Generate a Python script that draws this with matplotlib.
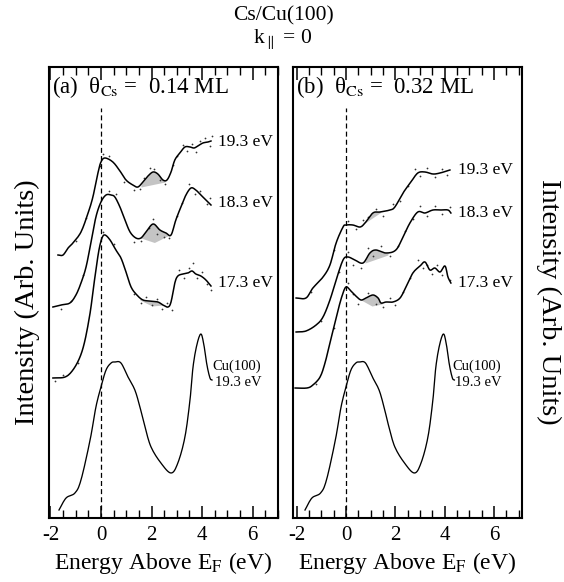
import numpy as np
import matplotlib
matplotlib.use("Agg")
import matplotlib.pyplot as plt

plt.rcParams['font.family'] = ['Liberation Serif', 'DejaVu Serif']
plt.rcParams['mathtext.fontset'] = 'stix'

# ---------------- data (energy in eV, intensity in arbitrary units, offsets included) ----------------
# shared clean Cu(100) spectrum at 19.3 eV
cu_E = [-1.66, -1.38, -1.03, -0.79, -0.43, -0.20, 0.00, 0.20, 0.40, 0.55, 0.79, 1.07, 1.34, 1.54,
        1.74, 1.98, 2.37, 2.77, 3.04, 3.32, 3.52, 3.64, 3.79, 3.95, 4.07, 4.19, 4.31, 4.39]
cu_I = [8, 20, 25, 38, 78, 111, 131, 148, 155, 156, 155, 141, 128, 111,
        91, 71, 55, 45, 55, 81, 118, 151, 173, 184, 173, 153, 140, 138]

# panel (a): 0.14 ML
a193_E = [-1.70, -1.50, -1.30, -1.11, -0.79, -0.51, -0.32, -0.12, 0.00, 0.16, 0.47, 0.75, 0.99,
          1.26, 1.46, 1.66, 1.86, 2.06, 2.25, 2.45, 2.61, 2.77, 2.92, 3.12, 3.32, 3.52, 3.68, 3.83,
          4.03, 4.23, 4.35]
a193_I = [263, 263, 270, 275, 286, 305, 321, 345, 356, 360, 356, 347, 338,
          333, 331, 336, 342, 346, 344, 338, 338, 346, 358, 365, 371, 371, 370, 372,
          375, 376, 377]
a183_E = [-1.90, -1.58, -1.23, -0.99, -0.79, -0.59, -0.40, -0.20, 0.00, 0.20, 0.40, 0.55, 0.75, 0.95,
          1.15, 1.38, 1.58, 1.78, 2.06, 2.33, 2.57, 2.77, 2.96, 3.16, 3.36, 3.56, 3.75, 3.95, 4.15, 4.35]
a183_I = [211, 213, 215, 223, 235, 251, 275, 301, 316, 323, 323, 321, 311, 298,
          286, 280, 280, 286, 294, 288, 285, 283, 298, 311, 323, 330, 328, 323, 318, 313]
a173_E = [-1.90, -1.42, -1.11, -0.83, -0.63, -0.43, -0.32, -0.20, -0.08, 0.04, 0.16, 0.36, 0.59, 0.79,
          0.99, 1.19, 1.42, 1.66, 1.94, 2.25, 2.45, 2.65, 2.77, 2.92, 3.04, 3.24, 3.44, 3.60, 3.75,
          3.95, 4.15, 4.35]
a173_I = [140, 141, 148, 161, 178, 205, 226, 248, 268, 280, 283, 278, 268, 260,
          246, 231, 223, 218, 217, 216, 213, 211, 216, 235, 242, 244, 245, 247, 244,
          242, 238, 232]

# panel (b): 0.32 ML
b193_E = [-2.02, -1.62, -1.34, -0.93, -0.65, -0.40, -0.12, 0.00, 0.28, 0.57, 0.77, 1.09, 1.38, 1.78,
          1.98, 2.31, 2.63, 2.91, 3.20, 3.52, 3.81, 4.21]
b193_I = [220, 220, 230, 241, 253, 275, 291, 293, 293, 291, 295, 305, 306, 308,
          311, 325, 336, 345, 346, 344, 345, 348]
b183_E = [-2.02, -1.62, -1.21, -0.93, -0.65, -0.40, -0.12, 0.08, 0.36, 0.69, 0.97, 1.21, 1.62, 2.02,
          2.31, 2.59, 2.91, 3.20, 3.52, 3.85, 4.13, 4.25]
b183_I = [186, 187, 193, 201, 218, 238, 258, 261, 258, 255, 265, 268, 265, 268,
          281, 295, 306, 305, 308, 308, 308, 305]
b173_E = [-2.06, -1.58, -1.34, -1.05, -0.85, -0.65, -0.45, -0.32, -0.16, 0.00, 0.20, 0.40, 0.61, 0.81,
          1.09, 1.30, 1.42, 1.62, 1.90, 2.19, 2.43, 2.71, 3.00, 3.20, 3.40, 3.60, 3.81, 4.01, 4.13, 4.25]
b173_I = [130, 130, 133, 141, 155, 175, 195, 208, 222, 231, 227, 222, 218, 220,
          223, 220, 215, 216, 216, 220, 231, 245, 252, 256, 248, 250, 246, 252, 241, 235]

# raw data points scattered around the smoothed curves
a193_dot_E = [-1.0, -0.6, -0.05, 0.1, 0.3, 0.9, 1.3, 1.55, 1.7, 1.95, 2.1, 2.35, 2.55, 2.85, 3.0, 3.25,
              3.4, 3.6, 3.75, 3.9, 4.1, 4.3, 4.4]
a193_dot_I = [277, 300, 352, 364, 362, 336, 328, 329, 340, 350, 349, 338, 334, 353, 362, 373,
              367, 374, 366, 377, 380, 372, 382]
a183_dot_E = [-1.6, -1.2, -0.7, 0.3, 0.6, 1.3, 1.6, 1.9, 2.05, 2.2, 2.5, 2.7, 3.0, 3.2, 3.5, 3.7, 3.9,
              4.2, 4.3]
a183_dot_I = [209, 217, 243, 327, 324, 276, 277, 290, 299, 284, 281, 280, 302, 315, 334, 324, 327,
              314, 320]
a173_dot_E = [-1.8, -1.5, -0.9, 0.1, 0.5, 1.3, 1.6, 1.8, 2.0, 2.2, 2.4, 2.6, 2.8, 3.1, 3.3, 3.5, 3.65,
              3.8, 4.0, 4.2, 4.35]
a173_dot_I = [137, 143, 155, 286, 274, 224, 215, 221, 213, 219, 209, 215, 208, 248, 240, 250, 255,
              240, 246, 234, 228]
b193_dot_E = [-1.4, -0.5, 0.1, 0.4, 0.7, 0.9, 1.2, 1.5, 1.9, 2.2, 2.5, 2.8, 3.0, 3.3, 3.6, 3.9, 4.1]
b193_dot_I = [226, 268, 297, 289, 298, 301, 309, 302, 314, 317, 332, 349, 342, 350, 341, 349, 343]
b183_dot_E = [-1.0, -0.3, 0.1, 0.3, 0.6, 0.9, 1.1, 1.4, 1.8, 2.1, 2.4, 2.7, 3.0, 3.3, 3.6, 3.9, 4.2]
b183_dot_I = [197, 246, 266, 253, 250, 270, 262, 272, 262, 272, 287, 299, 312, 302, 312, 304, 311]
b173_dot_E = [-1.2, -0.5, 0.1, 0.3, 0.5, 0.9, 1.2, 1.5, 1.8, 2.0, 2.3, 2.6, 2.9, 3.1, 3.3, 3.5, 3.7,
              3.9, 4.2]
b173_dot_I = [134, 190, 235, 224, 214, 225, 214, 211, 220, 213, 226, 240, 258, 250, 253, 244, 253,
              243, 238]

# shaded (Cs-induced) features: lower boundary points
a193_shade_E = [1.58, 2.53]; a193_shade_I = [331, 336]
a183_shade_E = [1.54, 2.13, 2.77]; a183_shade_I = [280, 275, 283]
a173_shade_E = [1.54, 2.02, 2.45]; a173_shade_I = [218, 212, 213]
b193_shade_E = [0.57, 1.42]; b193_shade_I = [291, 305]
b183_shade_E = [0.77, 1.70]; b183_shade_I = [255, 263]
b173_shade_E = [0.61, 1.05, 1.46]; b173_shade_I = [218, 212, 214]

photon_labels = ["19.3 eV", "18.3 eV", "17.3 eV"]
a_label_I = [376, 315, 235]
b_label_I = [348, 305, 235]
panel_titles = ["(a)  θ$_{\\mathrm{Cs}}$ =  0.14 ML", "(b)  θ$_{\\mathrm{Cs}}$ =  0.32 ML"]
xticks = [-2, 0, 2, 4, 6]


def smooth(x, y, n=8):
    x = np.asarray(x, float); y = np.asarray(y, float)
    P = np.column_stack([x, y])
    P = np.vstack([P[0] * 2 - P[1], P, P[-1] * 2 - P[-2]])
    out = []
    t = np.linspace(0, 1, n, endpoint=False)[:, None]
    for i in range(1, len(P) - 2):
        p0, p1, p2, p3 = P[i - 1], P[i], P[i + 1], P[i + 2]
        seg = 0.5 * ((2 * p1) + (-p0 + p2) * t + (2 * p0 - 5 * p1 + 4 * p2 - p3) * t ** 2
                     + (-p0 + 3 * p1 - 3 * p2 + p3) * t ** 3)
        out.append(seg)
    out.append(P[-2][None, :])
    out = np.vstack(out)
    return out[:, 0], out[:, 1]


W, H = 564, 582
fig = plt.figure(figsize=(W / 100, H / 100), dpi=100)

def px_axes(x0, x1, y0, y1):
    return fig.add_axes([x0 / W, 1 - y1 / H, (x1 - x0) / W, (y1 - y0) / H])

axA = px_axes(49, 278, 67, 518)
axB = px_axes(293, 522, 67, 518)

panels = [
    (axA, (-2.055, 7.0), [(a193_E, a193_I, a193_shade_E, a193_shade_I, a193_dot_E, a193_dot_I),
                          (a183_E, a183_I, a183_shade_E, a183_shade_I, a183_dot_E, a183_dot_I),
                          (a173_E, a173_I, a173_shade_E, a173_shade_I, a173_dot_E, a173_dot_I)],
     a_label_I, 4.62, panel_titles[0]),
    (axB, (-2.146, 7.13), [(b193_E, b193_I, b193_shade_E, b193_shade_I, b193_dot_E, b193_dot_I),
                           (b183_E, b183_I, b183_shade_E, b183_shade_I, b183_dot_E, b183_dot_I),
                           (b173_E, b173_I, b173_shade_E, b173_shade_I, b173_dot_E, b173_dot_I)],
     b_label_I, 4.53, panel_titles[1]),
]

for ax, xl, curves, lab_I, lab_x, ptitle in panels:
    ax.set_xlim(*xl)
    ax.set_ylim(0, 451)
    for E, I, sE, sI, dE, dI in curves:
        xs, ys = smooth(E, I)
        g = np.linspace(sE[0], sE[-1], 60)
        top = np.interp(g, xs, ys)
        base = np.interp(g, sE, sI)
        ax.fill_between(g, base, top, where=top >= base, color='#c4c4c4', lw=0, interpolate=True, zorder=1)
        ax.plot(xs, ys, color='k', lw=1.1, zorder=3)
        ax.scatter(dE, dI, s=1.6, color='#333333', lw=0, zorder=2)
    xs, ys = smooth(cu_E, cu_I)
    ax.plot(xs, ys, color='k', lw=0.95, zorder=3)
    ax.plot([0, 0], [0, 410], color='k', lw=0.9, ls=(0, (4, 2.5)), zorder=2)
    for lab, yy in zip(photon_labels, lab_I):
        ax.text(lab_x, yy, lab, fontsize=12.5, va='center', ha='left')
    ax.text(lab_x - 0.22, 152, "Cu(100)", fontsize=10.5, va='center', ha='left')
    ax.text(lab_x - 0.1, 136, "19.3 eV", fontsize=10.5, va='center', ha='left')
    ax.text(0.015, 0.955, ptitle, transform=ax.transAxes, fontsize=16.5, va='center', ha='left')
    ax.set_yticks([])
    ax.set_xticks(xticks)
    ax.set_xticklabels([str(v) for v in xticks])
    ax.set_xticks(np.arange(-2, 7.01, 0.5), minor=True)
    ax.tick_params(axis='x', which='major', direction='in', top=True, bottom=True, length=9, width=1.1,
                   labelsize=15, pad=6)
    ax.tick_params(axis='x', which='minor', direction='in', top=True, bottom=True, length=5.5, width=1.0)
    for s in ax.spines.values():
        s.set_linewidth(1.5)
    ax.set_xlabel(r"Energy Above E$_{\mathrm{F}}$ (eV)", fontsize=17, labelpad=3)

fig.text(283 / W, 1 - 16 / H, "Cs/Cu(100)", fontsize=15.5, ha='center', va='center')
fig.text(283 / W, 1 - 39 / H, r"k$_{\parallel}$ = 0", fontsize=15.5, ha='center', va='center')
fig.text(27 / W, 1 - 302 / H, "Intensity (Arb. Units)", fontsize=20.5, rotation=90, ha='center', va='center')
fig.text(549 / W, 1 - 302 / H, "Intensity (Arb. Units)", fontsize=20.5, rotation=270, ha='center', va='center')

fig.savefig("out.png", dpi=100)
